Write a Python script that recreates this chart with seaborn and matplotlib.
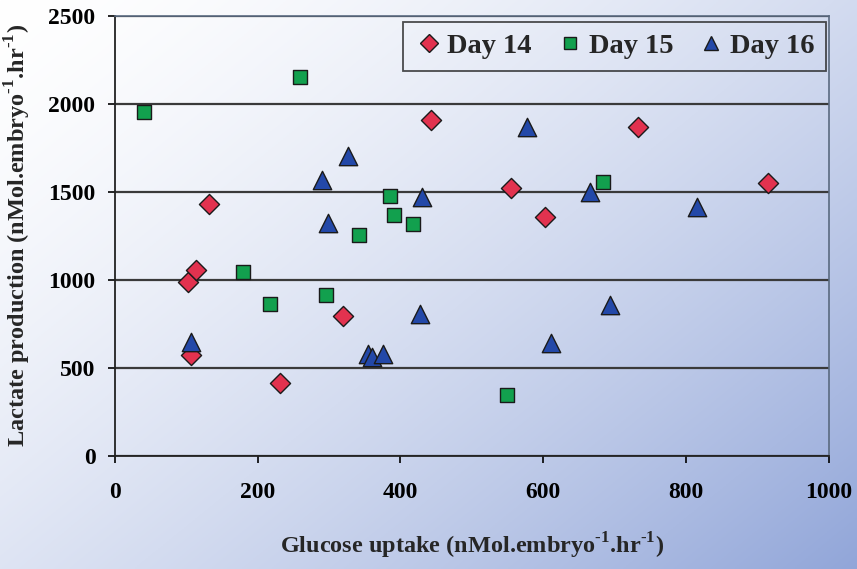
import numpy as np
import pandas as pd
import matplotlib
matplotlib.use("Agg")
import matplotlib.pyplot as plt
from matplotlib.lines import Line2D
import seaborn as sns

# values
day14_x = [103, 114, 132, 107, 232, 320, 443, 555, 603, 733, 915]
day14_y = [990, 1057, 1430, 572, 413, 795, 1909, 1524, 1356, 1871, 1553]

day15_x = [41, 259, 180, 218, 296, 342, 385, 391, 418, 684, 549]
day15_y = [1953, 2155, 1047, 862, 915, 1252, 1477, 1369, 1316, 1555, 347]

day16_x = [107, 290, 326, 298, 430, 577, 665, 815, 693, 611, 428, 355, 360, 375]
day16_y = [648, 1568, 1706, 1322, 1473, 1866, 1502, 1413, 858, 640, 807, 580, 562, 580]

days = ["Day 14", "Day 15", "Day 16"]
x_ticks = [0, 200, 400, 600, 800, 1000]
y_ticks = [0, 500, 1000, 1500, 2000, 2500]

df = pd.concat([
    pd.DataFrame({"glucose": day14_x, "lactate": day14_y, "day": "Day 14"}),
    pd.DataFrame({"glucose": day15_x, "lactate": day15_y, "day": "Day 15"}),
    pd.DataFrame({"glucose": day16_x, "lactate": day16_y, "day": "Day 16"}),
], ignore_index=True)

sns.set_style("white")
plt.rcParams['font.family'] = ['Liberation Serif', 'DejaVu Serif']
plt.rcParams['font.weight'] = 'bold'
plt.rcParams['mathtext.fontset'] = 'custom'
plt.rcParams['mathtext.rm'] = 'Liberation Serif:bold'
plt.rcParams['mathtext.bf'] = 'Liberation Serif:bold'

fig = plt.figure(figsize=(8.57, 5.69), dpi=100)

# gradient background: white at top-left, blue at bottom-right
bg = fig.add_axes([0, 0, 1, 1], zorder=0)
gx, gy = np.meshgrid(np.linspace(0, 1, 400), np.linspace(0, 1, 300))
t = np.clip((0.55 * gx + 0.45 * gy) ** 1.5, 0, 1)
c0 = np.array([1.0, 1.0, 1.0])
c1 = np.array([0.57, 0.65, 0.85])
img = c0[None, None, :] * (1 - t[..., None]) + c1[None, None, :] * t[..., None]
bg.imshow(img, aspect='auto', extent=[0, 1, 0, 1], origin='upper')
bg.axis('off')

ax = fig.add_axes([0.134, 0.199, 0.833, 0.773], zorder=1)
ax.patch.set_alpha(0)

palette = {"Day 14": "#e2324f", "Day 15": "#12a04e", "Day 16": "#2348a8"}
markers = {"Day 14": "D", "Day 15": "s", "Day 16": "^"}
sizes = {"Day 14": 105, "Day 15": 115, "Day 16": 175}
for d in days:
    sns.scatterplot(data=df[df["day"] == d], x="glucose", y="lactate",
                    color=palette[d], marker=markers[d], s=sizes[d],
                    edgecolor="#1a1a1a", linewidth=1.0, ax=ax, zorder=3)

ax.set_xlim(0, 1000)
ax.set_ylim(0, 2500)
ax.set_xticks(x_ticks)
ax.set_yticks(y_ticks)
ax.tick_params(axis='both', labelsize=17, direction='out', length=5, width=1.2,
               left=True, bottom=True, colors='black')
ax.tick_params(axis='x', pad=14)
ax.tick_params(axis='y', pad=9)
for lab in ax.get_xticklabels() + ax.get_yticklabels():
    lab.set_fontweight('bold')

ax.yaxis.grid(True, color='#3a3a3a', linewidth=1.6)
ax.set_axisbelow(True)
for side in ['left', 'bottom']:
    ax.spines[side].set_color('#222222')
    ax.spines[side].set_linewidth(1.3)
for side in ['top', 'right']:
    ax.spines[side].set_color('#5a6a80')
    ax.spines[side].set_linewidth(1.2)

sup = r'$^{\text{-1}}$'
ax.set_xlabel('Glucose uptake (nMol.embryo' + sup + '.hr' + sup + ')',
              fontsize=17.5, fontweight='bold', labelpad=20)
ax.set_ylabel('Lactate production (nMol.embryo' + sup + '.hr' + sup + ')',
              fontsize=17.5, fontweight='bold', labelpad=11)

handles = [Line2D([], [], linestyle='none', marker=markers[d], markersize=9 if d != "Day 16" else 10,
                  markerfacecolor=palette[d], markeredgecolor='#1a1a1a', markeredgewidth=1.0)
           for d in days]
leg = ax.legend(handles, days, ncol=3, loc='upper right', bbox_to_anchor=(0.996, 0.986),
                borderaxespad=0, frameon=True, fancybox=False, edgecolor='#222222',
                facecolor='none',
                prop={'family': 'Liberation Serif', 'weight': 'bold', 'size': 20.5},
                handletextpad=0.15, columnspacing=0.85,
                borderpad=0.4, handlelength=1.0)
leg.get_frame().set_linewidth(1.3)

fig.savefig("out.png", dpi=100)
